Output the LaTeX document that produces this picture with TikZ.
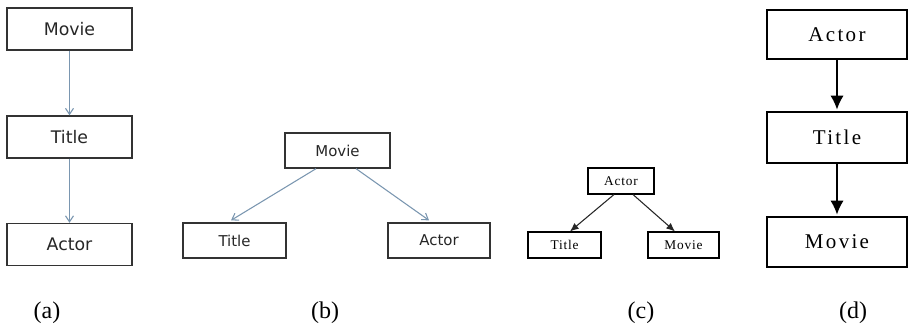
\documentclass[tikz,border=0pt]{standalone}
\usepackage{fontspec}
\setmainfont{Liberation Serif}
\newfontfamily\boxsans{DejaVu Sans}
\newfontfamily\boxserif[LetterSpace=6]{Liberation Serif}
\newfontfamily\boxserifwide[LetterSpace=11]{Liberation Serif}
\usetikzlibrary{arrows.meta}
\definecolor{bluearrow}{HTML}{7A96B0}
\definecolor{boxline}{HTML}{333333}
\tikzset{
  abox/.style={draw=boxline, line width=1.1pt, inner sep=0pt, minimum width=93.75pt, minimum height=31.5pt, text=black!85, font=\boxsans\fontsize{13}{15}\selectfont},
  bbox/.style={draw=boxline, line width=1pt, inner sep=0pt, minimum height=26.25pt, text=black!85, font=\boxsans\fontsize{11.2}{13}\selectfont},
  cbox/.style={draw=black, line width=0.8pt, inner sep=0pt, minimum height=19.5pt, font=\boxserif\fontsize{10}{12}\selectfont},
  dbox/.style={draw=black, line width=1.5pt, inner sep=0pt, minimum width=105pt, font=\boxserifwide\fontsize{15.75}{18}\selectfont},
  barrow/.style={draw=bluearrow, line width=0.8pt, -{Straight Barb[length=4.5pt,width=6pt]}},
  carrow/.style={draw=black!85, line width=0.8pt, -{Latex[length=6.5pt,width=5.5pt]}},
  darrow/.style={draw=black, line width=1.5pt, -{Latex[length=10.5pt,width=10pt]}, shorten >=1pt},
  caption/.style={font=\fontsize{18}{20}\selectfont, inner sep=0pt}
}
\begin{document}
\begin{tikzpicture}[x=0.75pt, y=-0.75pt]
\useasboundingbox (0,0) rectangle (908,326);
% (a)
\node[abox] (aM) at (69.5,29) {Movie};
\node[abox] (aT) at (69.5,137) {Title};
\node[abox] (aA) at (69.5,244.5) {Actor};
\draw[barrow] (aM) -- (aT);
\draw[barrow] (aT) -- (aA);
% (b)
\node[bbox, minimum width=78.75pt] (bM) at (337.5,150.5) {Movie};
\node[bbox, minimum width=77.25pt] (bT) at (234.5,240.5) {Title};
\node[bbox, minimum width=76.5pt] (bA) at (439,240.5) {Actor};
\draw[barrow] ([xshift=-16.1pt]bM.south) -- ([xshift=-2.6pt,yshift=1.5pt]bT.north);
\draw[barrow] ([xshift=13.9pt]bM.south) -- ([xshift=-7.5pt,yshift=1.5pt]bA.north);
% (c)
\node[cbox, minimum width=49.5pt] (cA) at (621,181) {Actor};
\node[cbox, minimum width=54.75pt] (cT) at (564.5,245) {Title};
\node[cbox, minimum width=53.25pt] (cM) at (683.5,245) {Movie};
\draw[carrow] ([xshift=-5.25pt]cA.south) -- ([xshift=4.1pt]cT.north);
\draw[carrow] ([xshift=9pt]cA.south) -- ([xshift=-6.4pt]cM.north);
% (d)
\node[dbox, minimum height=36.75pt] (dA) at (837,34.5) {Actor};
\node[dbox, minimum height=38.25pt] (dT) at (837,137.5) {Title};
\node[dbox, minimum height=37.5pt] (dM) at (837,242) {Movie};
\draw[darrow] (dA) -- (dT);
\draw[darrow] (dT) -- (dM);
% captions
\node[caption] (la) at (47,313) {(a)};
\node[caption] (lb) at (325,313) {(b)};
\node[caption] (lc) at (641,313) {(c)};
\node[caption] (ld) at (853,313) {(d)};
\end{tikzpicture}
\end{document}
